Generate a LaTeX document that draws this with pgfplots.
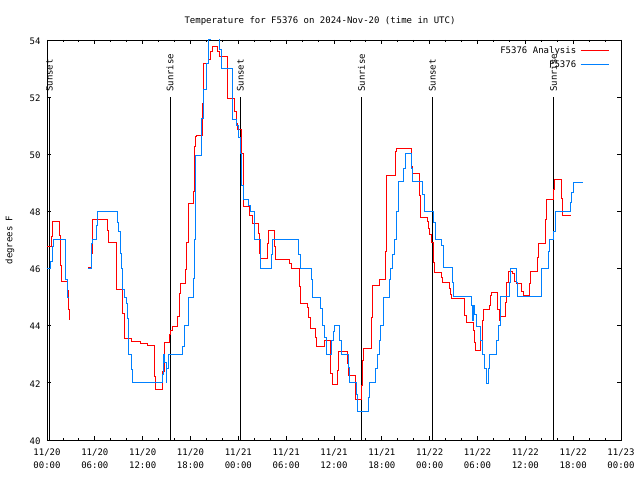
\documentclass[border=0pt]{standalone}
\usepackage{fontspec}
\setmainfont{DejaVu Sans Mono}
\usepackage{pgfplots}
\pgfplotsset{compat=1.18}
\definecolor{gpred}{RGB}{255,0,0}
\definecolor{gpblue}{RGB}{0,128,255}
\begin{document}
\begin{tikzpicture}[font=\fontsize{9bp}{13bp}\selectfont]
\begin{axis}[
 name=ax, at={(0,0)}, anchor=south west,
 scale only axis, width=574bp, height=400bp,
 xmin=0, xmax=72, ymin=40, ymax=54,
 xtick={0,6,...,72},
 xticklabels={{11/20\\00:00},{11/20\\06:00},{11/20\\12:00},{11/20\\18:00},{11/21\\00:00},{11/21\\06:00},{11/21\\12:00},{11/21\\18:00},{11/22\\00:00},{11/22\\06:00},{11/22\\12:00},{11/22\\18:00},{11/23\\00:00}},
 x tick label style={align=center, font=\fontsize{9bp}{13.5bp}\selectfont, yshift=-5bp},
 y tick label style={xshift=-3bp, yshift=-1bp},
 minor x tick num=2,
 ytick={40,42,...,54},
 /pgf/number format/assume math mode=true,
 major tick length=4bp, minor tick length=2.5bp,
 tick style={black, line width=0.8bp},
 axis line style={line width=0.9bp},
 ylabel={degrees F},
 ylabel style={at={(axis description cs:-0.0645,0.5)}, anchor=center},
 title={Temperature for F5376 on 2024-Nov-20 (time in UTC)},
 title style={at={(axis description cs:0.4756,1.05)}, anchor=center, yshift=-7bp},
 legend style={at={(axis description cs:0.9815,0.9925)}, anchor=north east, draw=none, fill=none, row sep=2bp, inner sep=1bp,
   nodes={inner xsep=4bp}},
 legend cell align=right,
 legend plot pos=right,
 legend image code/.code={\draw[#1] (0bp,0bp) -- (28bp,0bp);},
]
% sunrise / sunset markers
\addplot[black, line width=0.9bp, forget plot] coordinates {(0.29,40) (0.29,52)};
\addplot[black, line width=0.9bp, forget plot] coordinates {(15.43,40) (15.43,52)};
\addplot[black, line width=0.9bp, forget plot] coordinates {(24.25,40) (24.25,52)};
\addplot[black, line width=0.9bp, forget plot] coordinates {(39.45,40) (39.45,52)};
\addplot[black, line width=0.9bp, forget plot] coordinates {(48.34,40) (48.34,52)};
\addplot[black, line width=0.9bp, forget plot] coordinates {(63.52,40) (63.52,52)};
\node[rotate=90, anchor=west, inner sep=0pt] at (axis cs:0.29,52.18) {Sunset};
\node[rotate=90, anchor=west, inner sep=0pt] at (axis cs:15.43,52.18) {Sunrise};
\node[rotate=90, anchor=west, inner sep=0pt] at (axis cs:24.25,52.18) {Sunset};
\node[rotate=90, anchor=west, inner sep=0pt] at (axis cs:39.45,52.18) {Sunrise};
\node[rotate=90, anchor=west, inner sep=0pt] at (axis cs:48.34,52.18) {Sunset};
\node[rotate=90, anchor=west, inner sep=0pt] at (axis cs:63.52,52.18) {Sunrise};
% analysis (red)
\addplot[gpred, line width=1bp, const plot mark left] coordinates {
(0,46.77) (0.59,47.12) (0.72,47.64) (1.54,47.14) (1.72,46.09) (1.79,45.56) (2.55,45.23) (2.67,44.55) (2.80,44.22) (2.85,44.22)};
\addlegendentry{F5376 Analysis}
\addplot[gpred, line width=1bp, const plot mark left, forget plot] coordinates {
(5.18,46.03) (5.52,46.53) (5.68,47.72) (7.56,47.33) (7.69,46.92) (8.66,46.09) (8.78,45.27) (9.50,44.41) (9.70,43.57) (10.62,43.45) (11.67,43.38) (12.58,43.31) (13.51,42.22) (13.67,41.77) (14.51,42.4) (14.68,43.0) (14.76,43.42) (15.34,43.7) (15.43,43.85) (15.68,43.99) (16.43,44.32) (16.60,45.11) (16.72,45.48) (17.40,45.95) (17.52,46.92) (17.69,47.79) (17.77,48.28) (18.35,48.69) (18.44,50.27) (18.69,50.62) (18.78,50.67) (19.48,51.78) (19.69,53.18) (20.23,53.3) (20.45,53.59) (20.74,53.77) (21.41,53.6) (21.61,53.42) (22.62,51.96) (23.58,51.49) (23.80,51.08) (23.92,50.85) (24.42,50.03) (24.62,48.17) (25.46,47.87) (25.80,47.56) (26.51,47.23) (26.63,46.53) (26.81,46.36) (27.63,46.88) (27.81,47.33) (28.51,46.77) (28.69,46.32) (30.48,46.16) (30.70,46.01) (31.65,45.37) (31.82,44.78) (32.65,44.65) (32.83,44.3) (32.99,43.91) (33.66,43.6) (33.83,43.29) (34.75,43.45) (34.87,43.5) (35.50,42.33) (35.75,41.96) (36.42,42.45) (36.59,43.09) (37.67,42.68) (37.85,42.27) (38.67,41.43) (39.43,41.9) (39.61,42.8) (39.68,43.21) (40.73,44.3) (40.86,45.39) (41.77,45.6) (42.40,46.6) (42.61,49.27) (43.74,50.09) (43.87,50.21) (45.66,49.57) (45.87,49.33) (46.70,48.57) (46.79,47.79) (47.71,47.64) (47.83,47.41) (47.96,47.2) (48.21,46.91) (48.46,46.2) (48.63,45.86) (49.51,45.7) (49.64,45.51) (50.47,45.3) (50.64,45.1) (50.77,44.96) (52.43,44.35) (52.65,44.1) (53.48,43.85) (53.60,43.4) (53.78,43.15) (54.40,43.5) (54.57,44.2) (54.73,44.55) (55.48,44.7) (55.66,45.05) (55.78,45.17) (56.49,44.55) (56.70,44.2) (56.82,44.34) (57.49,44.8) (57.66,45.5) (57.87,45.89) (58.42,45.83) (58.62,45.54) (58.83,45.48) (59.55,45.2) (59.75,45.04) (60.51,45.48) (60.68,45.89) (61.51,46.4) (61.64,46.89) (62.51,47.7) (62.69,48.42) (63.52,48.75) (63.65,49.1) (64.57,48.45) (64.70,47.87) (65.70,47.87)};
% observations (blue)
\addplot[gpblue, line width=1bp, const plot mark left] coordinates {
(0,46.01) (0.50,46.24) (0.63,46.77) (0.79,47.02) (2.30,46.51) (2.38,45.6) (2.55,44.99) (2.80,44.99)};
\addlegendentry{F5376}
\addplot[gpblue, line width=1bp, const plot mark left, forget plot] coordinates {
(5.18,46.01) (5.61,46.88) (5.73,47.02) (6.23,47.5) (6.31,47.99) (8.82,47.6) (9.00,47.29) (9.16,46.53) (9.32,46.01) (9.50,45.27) (9.70,44.99) (9.91,44.76) (10.07,44.26) (10.20,43.01) (10.54,42.47) (10.70,42.0) (14.43,42.3) (14.59,43.0) (14.76,42.7) (14.93,42.0) (15.05,42.5) (15.18,43.0) (17.02,43.27) (17.19,44.02) (17.77,44.99) (18.35,45.66) (18.53,47.02) (18.69,49.97) (19.41,51.26) (19.61,52.25) (20.03,53.18) (20.23,54.0) (20.45,54.3) (21.70,53.65) (21.91,53.01) (23.29,51.2) (23.80,51.0) (23.96,50.6) (24.21,50.03) (24.42,48.9) (24.71,48.4) (25.25,48.2) (25.55,47.99) (26.09,47.02) (26.72,46.01) (28.19,46.5) (28.31,47.02) (31.52,46.5) (31.74,46.01) (33.21,45.6) (33.33,44.99) (34.33,44.6) (34.50,44.02) (34.75,43.6) (35.00,43.01) (35.71,43.5) (35.92,43.8) (36.09,44.02) (36.75,43.5) (36.96,43.01) (37.80,42.55) (37.92,42.0) (38.76,41.6) (38.93,41.01) (40.31,41.5) (40.44,42.0) (41.23,42.5) (41.40,43.01) (41.68,43.5) (41.86,44.02) (42.19,44.99) (42.94,45.6) (43.12,46.01) (43.37,46.5) (43.54,47.02) (43.87,48.0) (44.07,49.04) (44.70,49.5) (44.91,50.01) (45.75,49.5) (45.87,49.04) (47.13,48.6) (47.30,48.05) (47.38,48.01) (48.46,47.6) (48.68,47.0) (49.51,46.8) (49.71,46.03) (50.84,45.5) (51.05,45.02) (53.27,44.7) (53.40,44.2) (53.48,44.7) (53.65,44.4) (53.90,43.97) (54.40,43.5) (54.57,43.01) (54.94,42.5) (55.07,41.98) (55.36,42.5) (55.48,43.01) (56.41,43.5) (56.58,44.0) (56.91,45.02) (58.00,45.5) (58.17,46.01) (58.93,45.5) (59.05,45.02) (62.06,46.01) (62.89,46.6) (63.01,47.0) (63.52,47.3) (63.73,48.01) (65.61,48.3) (65.83,48.65) (66.03,49.02) (67.20,49.02)};
\end{axis}
\pgfresetboundingbox
\path (-47bp,-40bp) rectangle (593bp,440bp);
\end{tikzpicture}
\end{document}
